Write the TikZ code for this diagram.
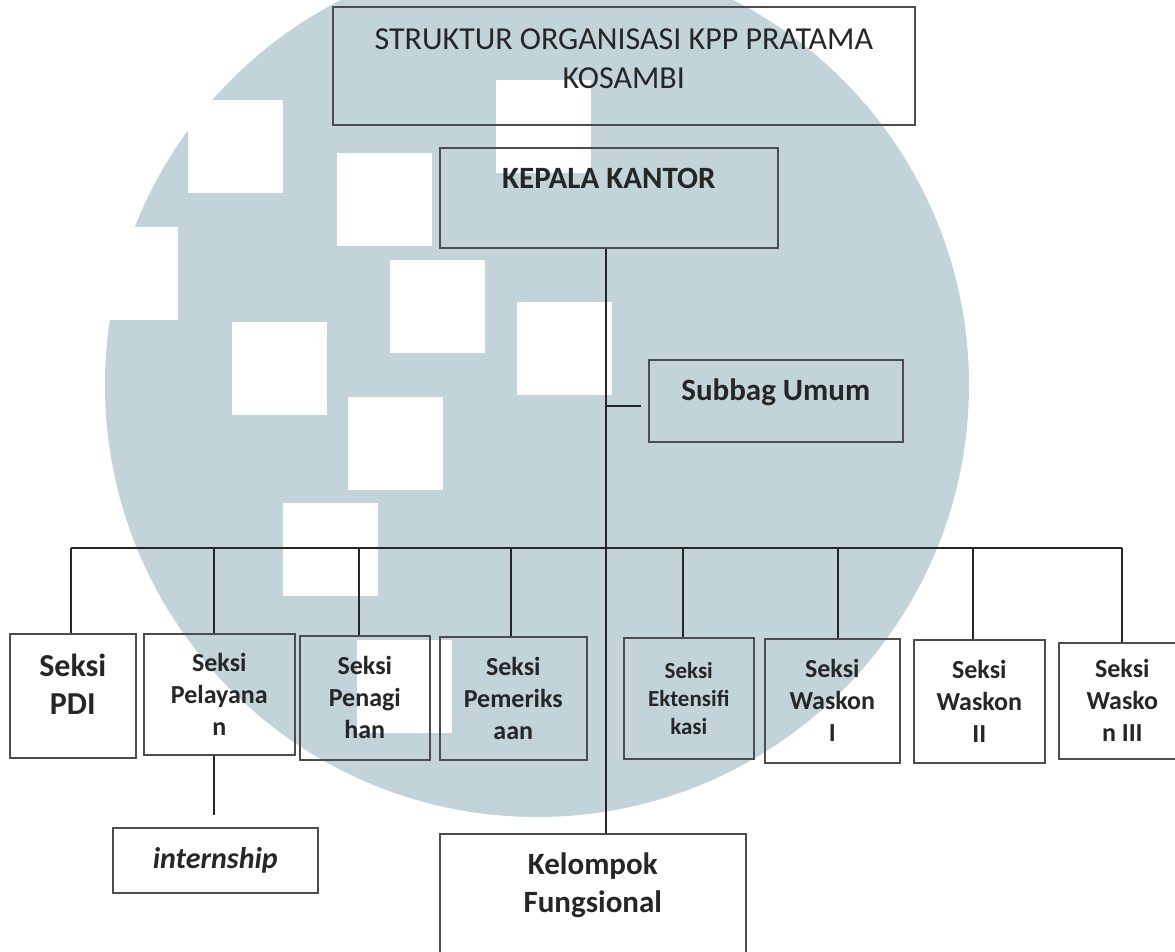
\documentclass[tikz,border=0pt]{standalone}
\usepackage{fontspec}
\setmainfont{Carlito}
\usepackage{xcolor}
\definecolor{filigrane}{HTML}{C2D3DA}

\begin{document}
\begin{tikzpicture}[x=1pt,y=-1pt,
    kotak/.style={draw=black!70, line width=1.6pt, inner sep=2pt, align=center, anchor=north west, text=black!85},
    seksi/.style={kotak, font=\bfseries\fontsize{26}{32}\selectfont},
    lien/.style={draw=black!85, line width=1.6pt}]
    \useasboundingbox (0,0) rectangle (1175,952);
    % Filigrane
    \fill[filigrane] (537,385) circle (432);
    \foreach \x/\y in {496/80, 337/153, 390/260, 517/302, 232/322, 348/397, 283/503, 357/640, 188/100, 83/227}
        \fill[white] (\x,\y) rectangle ++(95,93); % carres blancs
    % Titre
    \node[kotak, minimum width=582, minimum height=118, font=\fontsize{32}{39}\selectfont, text depth=15] (judul) at (332,6) {STRUKTUR ORGANISASI KPP PRATAMA\\KOSAMBI};
    % Chef
    \node[kotak, minimum width=338, minimum height=100, font=\bfseries\fontsize{31}{38}\selectfont, text depth=38] (kepala) at (439,147) {KEPALA KANTOR};
    \node[kotak, minimum width=254, minimum height=82, font=\bfseries\fontsize{31}{38}\selectfont, text depth=22] (subbag) at (648,359) {Subbag Umum};
    % Sections
    \node[kotak, minimum width=126, minimum height=124, font=\bfseries\fontsize{32}{38}\selectfont, text depth=24] (pdi) at (9,633) {Seksi\\PDI};
    \node[seksi, minimum width=151, minimum height=121] (pelayanan) at (143,633) {Seksi\\Pelayana\\n};
    \node[seksi, minimum width=130, minimum height=124] (penagihan) at (299,635) {Seksi\\Penagi\\han};
    \node[seksi, minimum width=147, minimum height=123] (pemeriksaan) at (439,636) {Seksi\\Pemeriks\\aan};
    \node[seksi, minimum width=130, minimum height=121, font=\bfseries\fontsize{23}{28}\selectfont] (ekstensifikasi) at (623,637) {Seksi\\Ektensifi\\kasi};
    \node[seksi, minimum width=135, minimum height=124] (waskon1) at (764,638) {Seksi\\Waskon\\I};
    \node[seksi, minimum width=131, minimum height=123] (waskon2) at (913,639) {Seksi\\Waskon\\II};
    \node[seksi, minimum width=127, minimum height=116] (waskon3) at (1058,642) {Seksi\\Wasko\\n III};
    % Bas
    \node[kotak, minimum width=205, minimum height=65, font=\bfseries\itshape\fontsize{30}{36}\selectfont] (internship) at (112,827) {internship};
    \node[kotak, minimum width=306, minimum height=160, font=\bfseries\fontsize{31}{38}\selectfont, text depth=62] (kelompok) at (439,833) {Kelompok\\Fungsional};
    % Liaisons
    \coordinate (batang) at (606,548);
    \draw[lien] (kepala.south -| batang) -- (kelompok.north -| batang); % tronc
    \coordinate (cabang) at (641,406);
    \draw[lien] (cabang -| batang) -- (cabang); % vers subbag
    \foreach \nom/\x in {pdi/71, pelayanan/214, penagihan/359, pemeriksaan/511, ekstensifikasi/683, waskon1/838, waskon2/973, waskon3/1122}{
        \coordinate (t-\nom) at (\x,548);
        \draw[lien] (t-\nom) -- (t-\nom |- \nom.north);
    }
    \draw[lien] (t-pdi) -- (t-waskon3); % barre
    \coordinate (bawah) at (214,815);
    \draw[lien] (pelayanan.south -| bawah) -- (bawah); % vers internship
\end{tikzpicture}
\end{document}
